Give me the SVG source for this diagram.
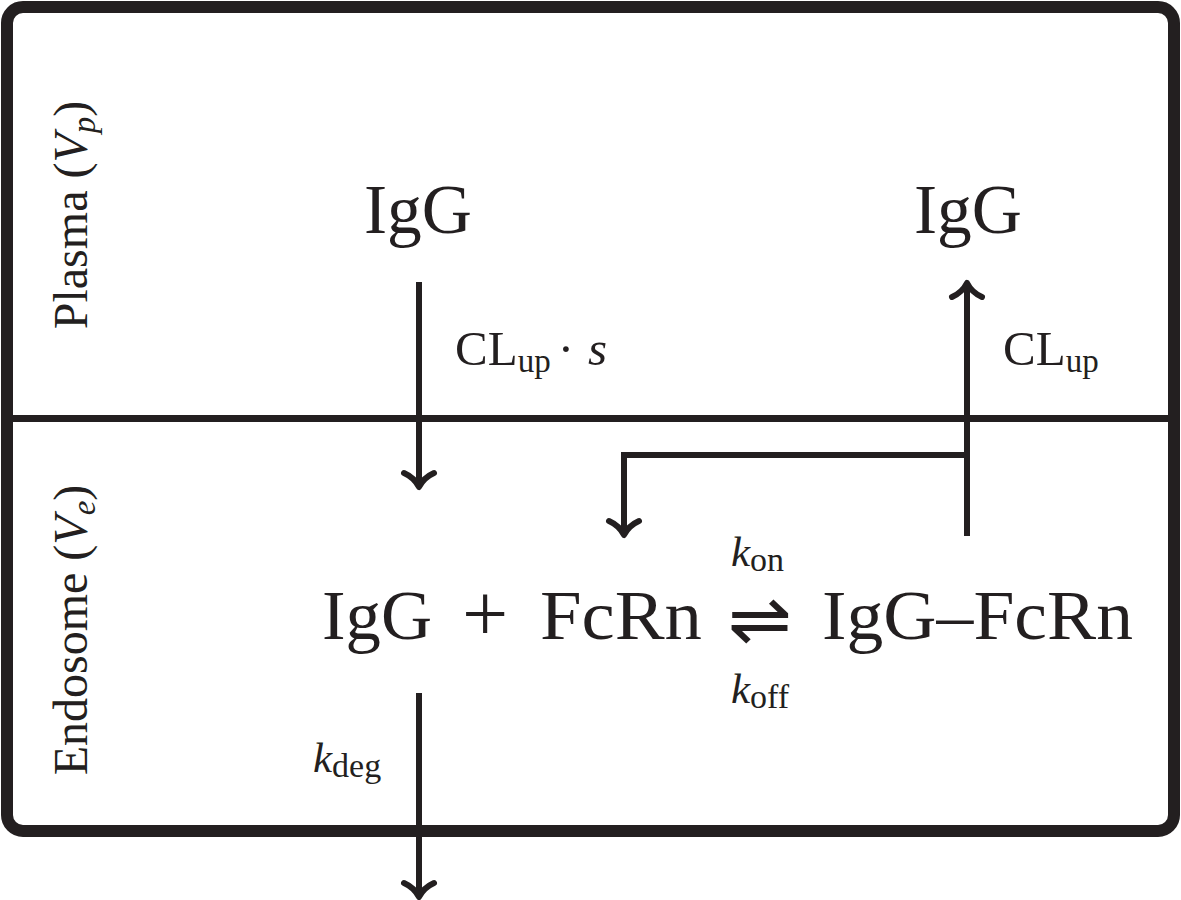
<svg xmlns="http://www.w3.org/2000/svg" width="1181" height="900" viewBox="0 0 1181 900">
<defs>
<style>
.t{font-family:"Liberation Serif","DejaVu Serif",serif;fill:#231f20}
.big{font-size:70px}
.lab{font-size:49px}
.side{font-size:48px}
.it{font-style:italic}
.ln{fill:none;stroke:#231f20;stroke-width:6}
.frame{fill:#fff;stroke:#231f20;stroke-width:12}
</style>
<marker id="ah" markerUnits="userSpaceOnUse" markerWidth="40" markerHeight="40" viewBox="-20 -20 40 40" refX="0" refY="0" orient="auto" overflow="visible">
<path d="M -14 -15 C -10 -6 -4 -2 0 0 C -4 2 -10 6 -14 15" fill="none" stroke="#231f20" stroke-width="6" stroke-linecap="round" stroke-linejoin="round"/>
</marker>
</defs>
<rect width="1181" height="900" fill="#fff"/>
<g id="frame">
<rect class="frame" x="7" y="7" width="1167" height="824" rx="16"/>
<line x1="7" y1="418.5" x2="1174" y2="418.5" stroke="#231f20" stroke-width="7"/>
</g>
<g id="compartment-plasma">
<text class="t side" transform="translate(87,215) rotate(-90)" text-anchor="middle">Plasma (<tspan class="it">V</tspan><tspan class="it" font-size="33" dy="8">p</tspan><tspan dy="-8">)</tspan></text>
</g>
<g id="compartment-endosome">
<text class="t side" transform="translate(87,630) rotate(-90)" text-anchor="middle">Endosome (<tspan class="it">V</tspan><tspan class="it" font-size="33" dy="8">e</tspan><tspan dy="-8">)</tspan></text>
</g>
<g id="igg-plasma-in">
<text class="t big" x="364" y="233" textLength="108" lengthAdjust="spacingAndGlyphs">IgG</text>
</g>
<g id="igg-plasma-out">
<text class="t big" x="914" y="233" textLength="108" lengthAdjust="spacingAndGlyphs">IgG</text>
</g>
<g id="reaction">
<text class="t big" x="322" y="639" textLength="110" lengthAdjust="spacingAndGlyphs">IgG</text>
<text class="t" x="485" y="641" text-anchor="middle" font-size="82">+</text>
<text class="t big" x="540" y="639" textLength="162" lengthAdjust="spacingAndGlyphs">FcRn</text>
<text x="728" y="644" font-family="DejaVu Sans, sans-serif" font-size="72" fill="#231f20" textLength="64" lengthAdjust="spacingAndGlyphs">⇌</text>
<text class="t big" x="822" y="639" textLength="311" lengthAdjust="spacingAndGlyphs">IgG–FcRn</text>
</g>
<g id="connectors">
<path class="ln" d="M 419 282 V 487" marker-end="url(#ah)"/>
<path class="ln" d="M 967 536 V 283" marker-end="url(#ah)"/>
<path class="ln" d="M 967 455 H 624 V 535" marker-end="url(#ah)"/>
<path class="ln" d="M 419 693 V 897" marker-end="url(#ah)"/>
</g>
<g id="labels">
<text class="t lab" x="455" y="365">CL<tspan font-size="33" dy="7">up</tspan><tspan x="566" dy="-7" text-anchor="middle">·</tspan><tspan class="it" x="588">s</tspan></text>
<text class="t lab" x="1003" y="365">CL<tspan font-size="33" dy="7">up</tspan></text>
<text class="t" x="731" y="566" font-size="43"><tspan class="it">k</tspan><tspan font-size="34" dy="5">on</tspan></text>
<text class="t" x="731" y="703" font-size="43"><tspan class="it">k</tspan><tspan font-size="34" dy="5">off</tspan></text>
<text class="t" x="313" y="772" font-size="43"><tspan class="it">k</tspan><tspan font-size="34" dy="5">deg</tspan></text>
</g>
</svg>
